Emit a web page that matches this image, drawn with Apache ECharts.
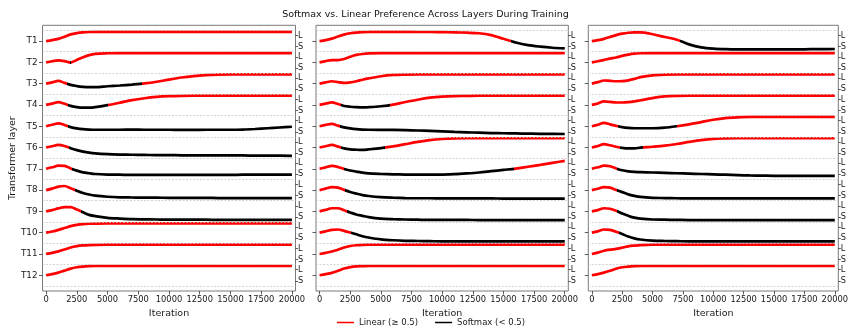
<!DOCTYPE html>
<html><head><meta charset="utf-8">
<script src="https://cdn.jsdelivr.net/npm/echarts@6/dist/echarts.min.js"></script>
<style>html,body{margin:0;padding:0;background:#fff}#c{width:851px;height:326px}</style>
</head><body><div id="c"></div>
<script>
// ---------------- data ----------------
const chartTitle = 'Softmax vs. Linear Preference Across Layers During Training';
const layers = ['T1','T2','T3','T4','T5','T6','T7','T8','T9','T10','T11','T12'];
const xTickValues = [0,2500,5000,7500,10000,12500,15000,17500,20000];
const iterations = [0,500,1000,1500,2000,2500,3000,3500,4000,5000,6000,7000,8000,9000,10000,11000,12000,13000,14000,15000,16000,17000,18000,19000,20000];
const legendLinear = 'Linear (\u2265 0.5)';
const legendSoftmax = 'Softmax (< 0.5)';

// preference for the linear branch (p >= 0.5 -> Linear, p < 0.5 -> Softmax)
const panelA = [
 [0.5,0.55,0.62,0.73,0.86,0.93,0.97,0.99,1, 1,1,1,1,1,1,1,1,1,1,1,1,1,1,1,1],
 [0.5,0.56,0.61,0.57,0.49,0.63,0.77,0.89,0.96, 0.99,1,1,1,1,1,1,1,1,1,1,1,1,1,1,1],
 [0.5,0.57,0.65,0.54,0.43,0.37,0.33,0.31,0.31, 0.36,0.40,0.45,0.51,0.60,0.72,0.83,0.91,0.96,0.99,1,1,1,1,1,1],
 [0.5,0.57,0.65,0.56,0.45,0.38,0.35,0.35,0.38, 0.49,0.62,0.76,0.86,0.93,0.97,0.99,1,1,1,1,1,1,1,1,1],
 [0.5,0.58,0.65,0.57,0.45,0.38,0.34,0.32,0.31, 0.31,0.31,0.32,0.31,0.31,0.31,0.30,0.30,0.31,0.31,0.31,0.32,0.35,0.39,0.43,0.47],
 [0.5,0.57,0.64,0.58,0.46,0.36,0.28,0.22,0.18, 0.14,0.12,0.11,0.10,0.09,0.09,0.08,0.08,0.08,0.07,0.07,0.07,0.06,0.06,0.06,0.05],
 [0.5,0.58,0.67,0.66,0.52,0.40,0.31,0.26,0.22, 0.19,0.18,0.17,0.17,0.17,0.17,0.17,0.17,0.17,0.17,0.17,0.18,0.18,0.18,0.18,0.19],
 [0.5,0.58,0.69,0.72,0.60,0.46,0.34,0.26,0.20, 0.14,0.11,0.10,0.09,0.09,0.08,0.08,0.08,0.08,0.07,0.07,0.07,0.07,0.07,0.07,0.07],
 [0.5,0.57,0.66,0.73,0.73,0.60,0.45,0.31,0.24, 0.15,0.11,0.08,0.07,0.06,0.05,0.05,0.05,0.05,0.04,0.04,0.04,0.04,0.04,0.04,0.04],
 [0.5,0.56,0.65,0.75,0.85,0.92,0.96,0.98,0.99, 1,1,1,1,1,1,1,1,1,1,1,1,1,1,1,1],
 [0.5,0.56,0.64,0.74,0.85,0.92,0.96,0.98,0.99, 1,1,1,1,1,1,1,1,1,1,1,1,1,1,1,1],
 [0.5,0.56,0.64,0.75,0.86,0.93,0.97,0.99,1, 1,1,1,1,1,1,1,1,1,1,1,1,1,1,1,1]
];
const panelB = [
 [0.5,0.55,0.63,0.75,0.85,0.92,0.96,0.98,0.99, 1,1,1,0.99,0.99,0.98,0.97,0.95,0.92,0.82,0.62,0.42,0.28,0.20,0.14,0.10],
 [0.5,0.57,0.62,0.62,0.68,0.80,0.90,0.95,0.98, 1,1,1,1,1,1,1,1,1,1,1,1,1,1,1,1],
 [0.5,0.57,0.63,0.58,0.54,0.57,0.63,0.71,0.78, 0.90,0.97,0.99,1,1,1,1,1,1,1,1,1,1,1,1,1],
 [0.5,0.57,0.64,0.55,0.44,0.40,0.38,0.37,0.38, 0.43,0.52,0.66,0.78,0.89,0.95,0.98,0.99,1,1,1,1,1,1,1,1],
 [0.5,0.57,0.63,0.53,0.44,0.38,0.34,0.32,0.31, 0.30,0.30,0.29,0.27,0.25,0.22,0.19,0.17,0.15,0.13,0.12,0.11,0.10,0.09,0.09,0.08],
 [0.5,0.57,0.64,0.55,0.45,0.40,0.38,0.37,0.40, 0.47,0.56,0.68,0.80,0.90,0.96,0.99,1,1,1,1,1,1,1,1,1],
 [0.5,0.58,0.66,0.60,0.49,0.41,0.35,0.29,0.25, 0.22,0.20,0.19,0.18,0.18,0.19,0.21,0.25,0.30,0.37,0.44,0.51,0.61,0.71,0.82,0.93],
 [0.5,0.58,0.66,0.63,0.51,0.40,0.31,0.23,0.18, 0.12,0.09,0.07,0.06,0.06,0.05,0.05,0.05,0.05,0.05,0.04,0.04,0.04,0.04,0.04,0.04],
 [0.5,0.58,0.67,0.67,0.56,0.44,0.33,0.26,0.19, 0.11,0.08,0.06,0.05,0.04,0.04,0.04,0.04,0.03,0.03,0.03,0.03,0.03,0.03,0.03,0.03],
 [0.5,0.57,0.65,0.67,0.60,0.51,0.41,0.31,0.24, 0.14,0.09,0.06,0.05,0.04,0.03,0.03,0.03,0.03,0.03,0.03,0.03,0.03,0.03,0.03,0.03],
 [0.5,0.56,0.63,0.73,0.85,0.93,0.97,0.99,1, 1,1,1,1,1,1,1,1,1,1,1,1,1,1,1,1],
 [0.5,0.56,0.63,0.74,0.86,0.94,0.98,0.99,1, 1,1,1,1,1,1,1,1,1,1,1,1,1,1,1,1]
];
const panelC = [
 [0.5,0.55,0.62,0.72,0.82,0.90,0.95,0.97,0.97, 0.87,0.72,0.57,0.32,0.16,0.09,0.06,0.05,0.05,0.05,0.05,0.05,0.05,0.06,0.06,0.07],
 [0.5,0.56,0.63,0.70,0.76,0.85,0.92,0.97,0.99, 1,1,1,1,1,1,1,1,1,1,1,1,1,1,1,1],
 [0.5,0.58,0.67,0.65,0.63,0.64,0.68,0.76,0.85, 0.95,0.99,1,1,1,1,1,1,1,1,1,1,1,1,1,1],
 [0.5,0.58,0.69,0.66,0.63,0.63,0.65,0.69,0.75, 0.87,0.96,0.99,1,1,1,1,1,1,1,1,1,1,1,1,1],
 [0.5,0.58,0.68,0.60,0.52,0.45,0.41,0.39,0.39, 0.39,0.42,0.50,0.60,0.72,0.85,0.94,0.98,1,1,1,1,1,1,1,1],
 [0.5,0.58,0.68,0.62,0.54,0.48,0.45,0.45,0.49, 0.54,0.60,0.69,0.80,0.90,0.97,0.99,1,1,1,1,1,1,1,1,1],
 [0.5,0.58,0.67,0.64,0.52,0.42,0.36,0.33,0.32, 0.30,0.28,0.26,0.24,0.22,0.20,0.18,0.16,0.14,0.13,0.12,0.12,0.12,0.12,0.12,0.12],
 [0.5,0.57,0.66,0.63,0.51,0.39,0.27,0.19,0.13, 0.08,0.07,0.06,0.05,0.05,0.05,0.05,0.05,0.05,0.05,0.05,0.05,0.05,0.05,0.05,0.05],
 [0.5,0.57,0.67,0.64,0.53,0.38,0.26,0.16,0.11, 0.06,0.05,0.04,0.03,0.03,0.03,0.03,0.03,0.03,0.03,0.03,0.03,0.03,0.03,0.03,0.03],
 [0.5,0.57,0.67,0.65,0.55,0.43,0.29,0.19,0.13, 0.07,0.05,0.04,0.03,0.03,0.03,0.03,0.03,0.03,0.03,0.03,0.03,0.03,0.03,0.03,0.03],
 [0.5,0.57,0.67,0.73,0.77,0.84,0.91,0.95,0.98, 1,1,1,1,1,1,1,1,1,1,1,1,1,1,1,1],
 [0.5,0.56,0.64,0.74,0.85,0.93,0.97,0.99,1, 1,1,1,1,1,1,1,1,1,1,1,1,1,1,1,1]
];
const panels = [panelA, panelB, panelC];

// ---------------- build ----------------
const RED = '#ff0000', BLACK = '#000000';
const FONT = 'DejaVu Sans';
const K = 0.87;            // vertical height of one preference unit inside a row band
const LS = 0.26;           // position of the L / S ticks relative to the row centre
const Y_MIN = -0.74, Y_MAX = 11.74;
const X_MIN = -290, X_MAX = 20290;
const gridBoxes = [
  {left: 42.5, top: 25.3, width: 253, height: 265.7},
  {left: 316, top: 25.3, width: 252.3, height: 265.7},
  {left: 588.3, top: 25.3, width: 252, height: 265.7}
];
const rowIdx = layers.map((_, i) => i);
const lsVals = [];
rowIdx.forEach(i => { lsVals.push(i - LS); lsVals.push(i + LS); });

function piecesFor(ps) {
  const out = [];
  let start = -1e6, cur = ps[0] >= 0.5;
  for (let k = 0; k < ps.length - 1; k++) {
    const a = ps[k] >= 0.5, b = ps[k + 1] >= 0.5;
    if (a !== b) {
      const xc = iterations[k] + (0.5 - ps[k]) / (ps[k + 1] - ps[k]) * (iterations[k + 1] - iterations[k]);
      out.push({gte: start, lt: xc, color: cur ? RED : BLACK});
      start = xc; cur = b;
    }
  }
  out.push({gte: start, lt: 1e6, color: cur ? RED : BLACK});
  return out;
}

const grid = [], xAxis = [], yAxis = [], series = [], visualMap = [];
gridBoxes.forEach((b, g) => {
  grid.push(Object.assign({show: true, borderColor: '#7a7a7a', borderWidth: 1, backgroundColor: 'transparent'}, b));
  xAxis.push({
    type: 'value', gridIndex: g, min: X_MIN, max: X_MAX, position: 'bottom',
    axisLine: {show: false, onZero: false},
    splitLine: {show: false},
    axisTick: {show: true, customValues: xTickValues, length: 3.5, lineStyle: {color: '#333', width: 0.8}},
    axisLabel: {show: true, customValues: xTickValues, margin: 4.5, fontSize: 8.3, fontFamily: FONT, color: '#1a1a1a',
      formatter: v => String(Math.round(v))},
    name: 'Iteration', nameLocation: 'middle', nameGap: 10.5,
    nameTextStyle: {fontSize: 9.5, fontFamily: FONT, color: '#1a1a1a'}
  });
  yAxis.push({
    type: 'value', gridIndex: g, position: 'left', inverse: true, min: Y_MIN, max: Y_MAX,
    axisLine: {show: false, onZero: false}, splitLine: {show: false},
    axisTick: {show: true, customValues: rowIdx, length: 3.5, lineStyle: {color: '#333', width: 0.8}},
    axisLabel: {show: g === 0, customValues: rowIdx, margin: 5, fontSize: 8.8, fontFamily: FONT, color: '#1a1a1a',
      formatter: v => layers[Math.round(v)]},
    name: g === 0 ? 'Transformer layer' : '', nameLocation: 'middle', nameGap: 20, nameRotate: 90,
    nameTextStyle: {fontSize: 9.5, fontFamily: FONT, color: '#1a1a1a'}
  });
  yAxis.push({
    type: 'value', gridIndex: g, position: 'right', inverse: true, min: Y_MIN, max: Y_MAX,
    axisLine: {show: false, onZero: false}, splitLine: {show: false},
    axisTick: {show: true, customValues: lsVals, length: 2.5, lineStyle: {color: '#333', width: 0.8}},
    axisLabel: {show: true, customValues: lsVals, margin: 2.5, fontSize: 8.2, fontFamily: FONT, color: '#1a1a1a',
      formatter: v => (v < Math.round(v) ? 'L' : 'S')}
  });
});

panels.forEach((panel, g) => {
  panel.forEach((ps, i) => {
    const idx = series.length;
    series.push({
      type: 'line', xAxisIndex: g, yAxisIndex: 2 * g, silent: true,
      data: iterations.map((it, k) => [it, i - (ps[k] - 0.5) * K]),
      smooth: 0.3, symbol: 'none', lineStyle: {width: 2.7}, z: 3, animation: false
    });
    visualMap.push({type: 'piecewise', show: false, seriesIndex: idx, dimension: 0, pieces: piecesFor(ps)});
  });
});

// dashed row separators
const sepData = [];
for (let i = 0; i <= layers.length; i++) sepData.push({yAxis: i - 0.5});
gridBoxes.forEach((b, g) => {
  series.push({
    type: 'line', xAxisIndex: g, yAxisIndex: 2 * g, data: [], silent: true, z: 1,
    markLine: {silent: true, symbol: ['none', 'none'], animation: false, label: {show: false},
      lineStyle: {type: [2, 1.5], color: '#c8c8c8', width: 0.8}, emphasis: {disabled: true},
      data: sepData}
  });
});
// legend entries
series.push({type: 'line', name: legendLinear, xAxisIndex: 0, yAxisIndex: 0, data: [], symbol: 'none',
  itemStyle: {color: RED}, lineStyle: {color: RED, width: 1.5}});
series.push({type: 'line', name: legendSoftmax, xAxisIndex: 0, yAxisIndex: 0, data: [], symbol: 'none',
  itemStyle: {color: BLACK}, lineStyle: {color: BLACK, width: 1.5}});

const chart = echarts.init(document.getElementById('c'), null, {renderer: 'canvas'});
chart.setOption({
  animation: false,
  backgroundColor: '#ffffff',
  title: {text: chartTitle, left: 'center', top: 5,
    textStyle: {fontSize: 9.5, fontWeight: 'normal', fontFamily: FONT, color: '#111'}},
  legend: {data: [{name: legendLinear, icon: 'rect'}, {name: legendSoftmax, icon: 'rect'}],
    left: 332, top: 313, itemWidth: 17, itemHeight: 1.5, itemGap: 17,
    textStyle: {fontSize: 8.5, fontFamily: FONT, color: '#1a1a1a'}, selectedMode: false},
  grid, xAxis, yAxis, visualMap, series
});
</script></body></html>
